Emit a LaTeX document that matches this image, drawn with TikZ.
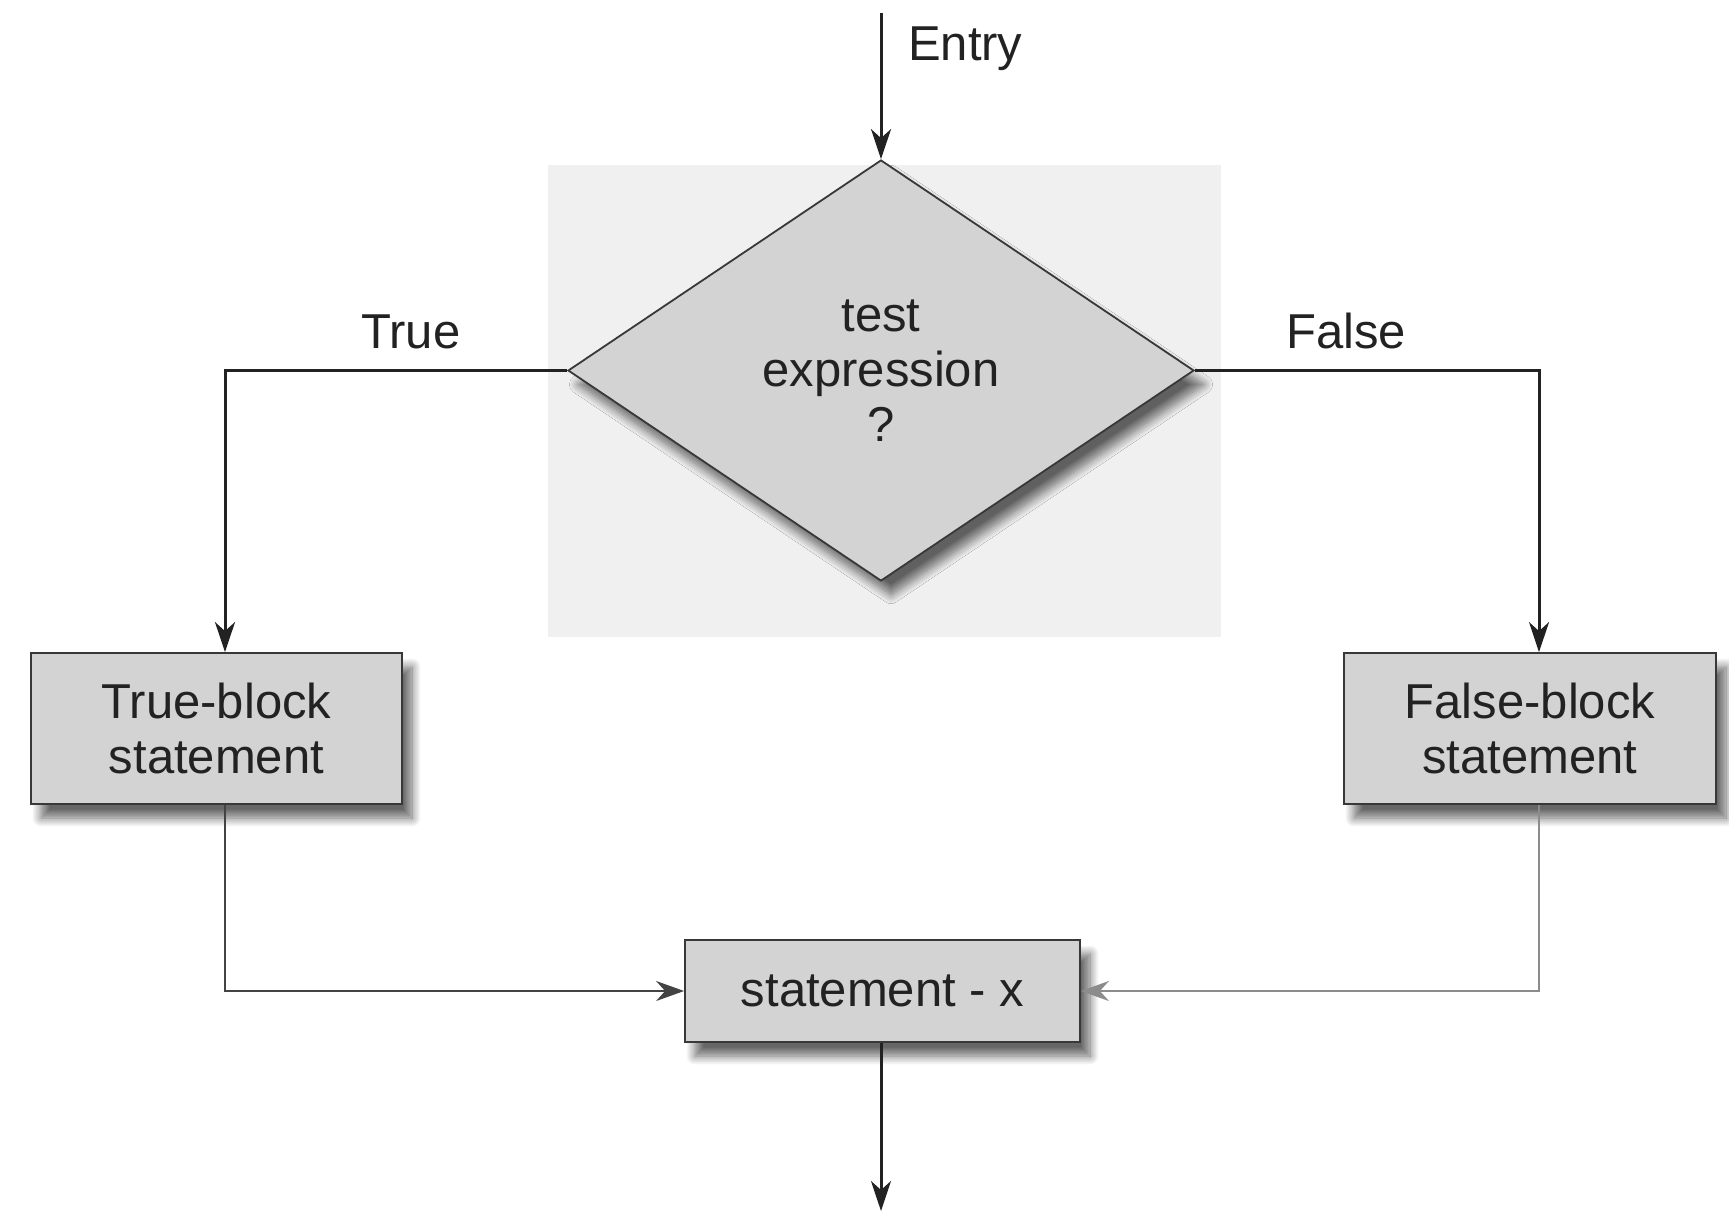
\documentclass[tikz,border=0pt]{standalone}
\usepackage{fontspec}
\setmainfont{Liberation Sans}
\usetikzlibrary{shapes.geometric,arrows.meta,shadows.blur}
\definecolor{boxfill}{HTML}{D3D3D3}
\definecolor{panel}{HTML}{F0F0F0}
\definecolor{ink}{HTML}{222222}
\begin{document}
\begin{tikzpicture}[x=0.5pt,y=-0.5pt,
  font=\fontsize{24.5}{27.5}\selectfont, text=ink,
  flowtip/.style={-{Stealth[length=15pt,width=10pt,inset=4.5pt]}},
  flow/.style={draw=ink, line width=1.5pt, flowtip},
  thinflow/.style={line width=0.9pt, -{Stealth[length=14pt,width=10pt,inset=4.5pt]}},
  softshadow/.style={blur shadow={shadow xshift=5pt, shadow yshift=-7pt, shadow blur radius=4.5pt, shadow blur steps=12, shadow opacity=60}},
  stmt/.style={draw=ink!90, line width=0.9pt, fill=boxfill, align=center, inner sep=0pt, softshadow}
]
\useasboundingbox (0,0) rectangle (1729,1216);

% light panel behind the decision
\node[fill=panel, minimum width=336.5pt, minimum height=236pt, inner sep=0pt] (panelbg) at (884.5,401) {};

% decision
\node[diamond, draw=ink!90, line width=0.9pt, fill=boxfill, aspect=1.487,
      minimum width=313pt, minimum height=210.5pt, inner sep=0pt, align=center, softshadow]
      (test) at (881,370.5) {test\\expression\\?};

% statement blocks
\node[stmt, minimum width=185.5pt, minimum height=75.5pt] (tb) at (216.5,728.5) {True-block\\statement};
\node[stmt, minimum width=186pt, minimum height=75.5pt] (fb) at (1530,728.5) {False-block\\statement};
\node[stmt, minimum width=197.5pt, minimum height=51pt] (sx) at (882.5,991) {statement - x};

% routing points
\coordinate (entry) at (881,13);
\coordinate (tl) at (225,370.5);
\coordinate (fr) at (1539,370.5);
\coordinate (exit) at (881,1211);

% labels
\node[anchor=base west] (entrylbl) at (901,60) {Entry};
\node[anchor=base] (truelbl) at (411,348) {True};
\node[anchor=base] (falselbl) at (1346,348) {False};

% connectors
\draw[flow] (entry) -- (test.north);
\draw[flow] (test.west) -- (tl) -- (tl |- tb.north);
\draw[flow] (test.east) -- (fr) -- (fr |- fb.north);
\draw[thinflow, draw=ink!85] (tl |- tb.south) -- (tl |- sx.west) -- (sx.west);
\draw[thinflow, draw=black!45] (fr |- fb.south) -- (fr |- sx.east) -- (sx.east);
\draw[flow] (entry |- sx.south) -- (exit);
\end{tikzpicture}
\end{document}
